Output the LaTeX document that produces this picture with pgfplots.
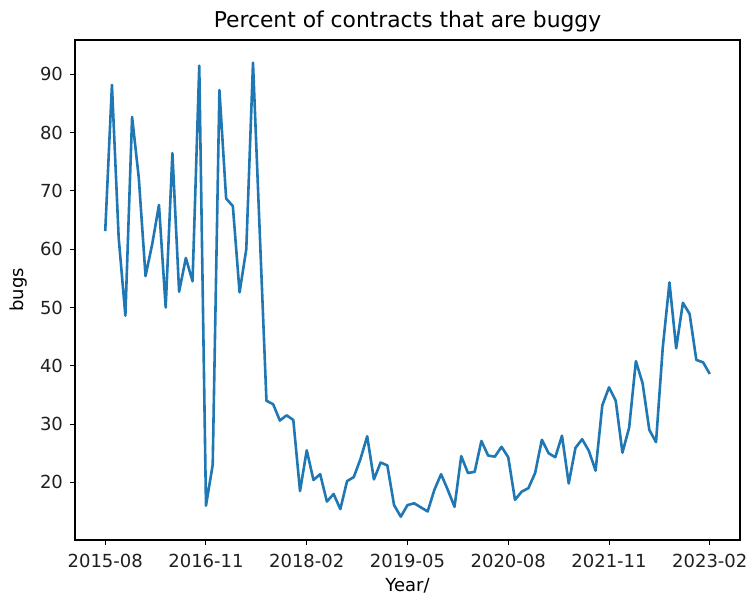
\documentclass[border=0pt]{standalone}
\usepackage{fontspec}
\setmainfont{DejaVu Sans}
\usepackage{pgfplots}
\pgfplotsset{compat=1.18}
\usepackage{pgfplotstable}

\definecolor{mplblue}{HTML}{1F77B4}

% Monthly share of buggy contracts, month 0 = 2015-08
\pgfplotstableread{
m   pct
0   63.1
1   88.2
2   62.0
3   48.6
4   82.7
5   72.2
6   55.4
7   60.9
8   67.6
9   50.0
10  76.5
11  52.7
12  58.5
13  54.5
14  91.5
15  16.0
16  23.0
17  87.3
18  68.7
19  67.4
20  52.6
21  60.0
22  92.0
23  63.0
24  34.0
25  33.4
26  30.6
27  31.5
28  30.7
29  18.5
30  25.5
31  20.4
32  21.4
33  16.7
34  18.0
35  15.4
36  20.2
37  20.9
38  24.0
39  27.9
40  20.5
41  23.4
42  22.9
43  16.1
44  14.1
45  16.1
46  16.4
47  15.7
48  15.0
49  18.7
50  21.4
51  18.7
52  15.8
53  24.5
54  21.6
55  21.8
56  27.1
57  24.6
58  24.4
59  26.1
60  24.3
61  17.0
62  18.4
63  19.0
64  21.6
65  27.3
66  25.0
67  24.3
68  28.0
69  19.8
70  25.9
71  27.4
72  25.4
73  22.0
74  33.2
75  36.3
76  34.0
77  25.1
78  29.4
79  40.8
80  37.0
81  29.0
82  26.9
83  43.1
84  54.3
85  43.0
86  50.8
87  48.9
88  41.0
89  40.6
90  38.6
}\buggy

\begin{document}
\begin{tikzpicture}
\begin{axis}[
  name=ax,
  scale only axis,
  width=332.5pt, height=250pt,
  xmin=-4.5, xmax=94.5,
  ymin=10.1, ymax=95.9,
  xtick={0,15,30,45,60,75,90},
  xticklabels={2015-08,2016-11,2018-02,2019-05,2020-08,2021-11,2023-02},
  ytick={20,30,40,50,60,70,80,90},
  xtick pos=bottom, ytick pos=left,
  tick align=outside,
  major tick length=2.5pt,
  every tick/.style={black, line width=0.5pt},
  axis line style={line width=0.6pt},
  /pgf/number format/assume math mode=true,
  ticklabel style={font=\fontsize{9}{11}\selectfont, text=black!88},
  xticklabel style={yshift=-1pt},
  title={Percent of contracts that are buggy},
  title style={font=\fontsize{10.9}{13}\selectfont, at={(axis description cs:0.5,1.038)}, anchor=center, yshift=-6pt},
  xlabel={Year/},
  xlabel style={font=\fontsize{9}{11}\selectfont, at={(axis description cs:0.5,-0.091)}, anchor=center},
  ylabel={bugs},
  ylabel style={font=\fontsize{9}{11}\selectfont, at={(axis description cs:-0.0842,0.5)}, anchor=center},
]
\addplot[mplblue, line width=1.3pt, line join=round] table[x=m, y=pct] {\buggy};
\end{axis}
\pgfresetboundingbox
\path ([xshift=-37.5pt,yshift=-29.5pt]ax.south west) rectangle ([xshift=5pt,yshift=20pt]ax.north east);
\end{tikzpicture}
\end{document}
